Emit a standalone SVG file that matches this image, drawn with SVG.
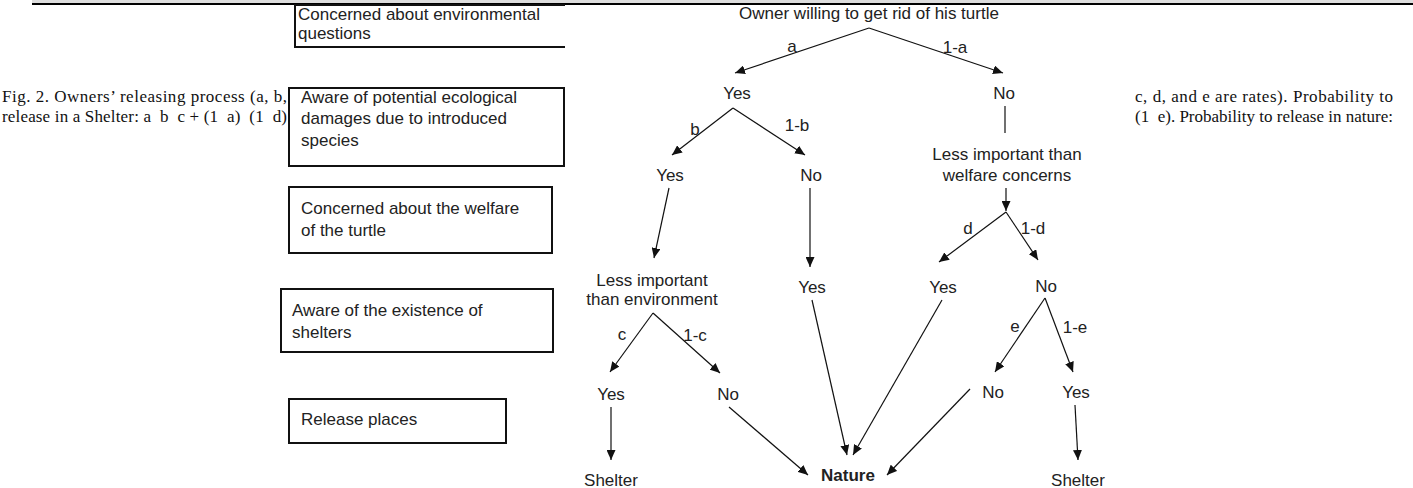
<svg xmlns="http://www.w3.org/2000/svg" width="1413" height="488" viewBox="0 0 1413 488">
<style>
.t{font-family:"Liberation Sans",Arial,sans-serif;font-size:17px;fill:#222}
.m{text-anchor:middle}
.b{font-weight:bold}
.cap{font-family:"Liberation Serif","Times New Roman",serif;font-size:17px;fill:#111}
.box{fill:none;stroke:#111;stroke-width:2}
.c line,.c path{stroke:#111;stroke-width:1.2;fill:none}
.arr{marker-end:url(#ah)}
</style>
<defs>
<marker id="ah" markerUnits="userSpaceOnUse" markerWidth="11" markerHeight="9" refX="10" refY="4.5" orient="auto">
<path d="M0,0 L10,4.5 L0,9 z" fill="#111"/>
</marker>
</defs>
<rect x="32" y="0" width="1381" height="3" fill="#ddd"/>
<line x1="32" y1="4" x2="1413" y2="4" stroke="#000" stroke-width="2"/>
<g id="caption">
<text class="cap" x="2" y="102" textLength="285" lengthAdjust="spacing">Fig. 2. Owners’ releasing process (a, b,</text>
<text class="cap" x="2" y="122" textLength="285" lengthAdjust="spacing" xml:space="preserve">release in a Shelter: a  b  c + (1  a)  (1  d)</text>
<text class="cap" x="1135" y="102" textLength="258" lengthAdjust="spacing">c, d, and e are rates). Probability to</text>
<text class="cap" x="1135" y="122" textLength="258" lengthAdjust="spacing" xml:space="preserve">(1  e). Probability to release in nature:</text>
</g>
<g id="box-env">
<polyline class="box" points="565,5 295,5 295,47 565,47"/>
<text class="t" x="298" y="20">Concerned about environmental</text>
<text class="t" x="298" y="39">questions</text>
</g>
<g id="box-eco">
<rect class="box" x="289" y="88" width="275" height="78"/>
<text class="t" x="301" y="103">Aware of potential ecological</text>
<text class="t" x="301" y="124">damages due to introduced</text>
<text class="t" x="301" y="146">species</text>
</g>
<g id="box-welfare">
<rect class="box" x="289" y="187" width="263" height="66"/>
<text class="t" x="301" y="214">Concerned about the welfare</text>
<text class="t" x="301" y="236">of the turtle</text>
</g>
<g id="box-shelters">
<rect class="box" x="281" y="289" width="272" height="63"/>
<text class="t" x="292" y="316">Aware of the existence of</text>
<text class="t" x="292" y="338">shelters</text>
</g>
<g id="box-release">
<rect class="box" x="289" y="399" width="217" height="44"/>
<text class="t" x="301" y="425">Release places</text>
</g>
<g id="n-owner"><text class="t m" x="869" y="19">Owner willing to get rid of his turtle</text></g>
<g id="n-yes1"><text class="t m" x="737" y="99">Yes</text></g>
<g id="n-no1"><text class="t m" x="1004" y="99">No</text></g>
<g id="n-yes2"><text class="t m" x="670" y="181">Yes</text></g>
<g id="n-no2"><text class="t m" x="811" y="181">No</text></g>
<g id="n-lesswelfare"><text class="t m" x="1007" y="160">Less important than</text><text class="t m" x="1007" y="181">welfare concerns</text></g>
<g id="n-lessenv"><text class="t m" x="652" y="286">Less important</text><text class="t m" x="652" y="305">than environment</text></g>
<g id="n-yes3"><text class="t m" x="812" y="293">Yes</text></g>
<g id="n-yes4"><text class="t m" x="943" y="293">Yes</text></g>
<g id="n-no4"><text class="t m" x="1046" y="292">No</text></g>
<g id="n-yes5"><text class="t m" x="611" y="400">Yes</text></g>
<g id="n-no5"><text class="t m" x="728" y="400">No</text></g>
<g id="n-no6"><text class="t m" x="993" y="398">No</text></g>
<g id="n-yes6"><text class="t m" x="1076" y="398">Yes</text></g>
<g id="n-shelter1"><text class="t m" x="611" y="486">Shelter</text></g>
<g id="n-nature"><text class="t m b" x="848" y="481">Nature</text></g>
<g id="n-shelter2"><text class="t m" x="1078" y="486">Shelter</text></g>
<g id="connectors" class="c">
<line class="arr" x1="869" y1="28" x2="735" y2="73"/>
<line class="arr" x1="869" y1="28" x2="1003" y2="73"/>
<line class="arr" x1="733" y1="108" x2="672" y2="155"/>
<line class="arr" x1="733" y1="108" x2="805" y2="155"/>
<line class="arr" x1="669" y1="188" x2="654" y2="258"/>
<line class="arr" x1="810" y1="188" x2="810" y2="267"/>
<line x1="1005" y1="106" x2="1005" y2="133"/>
<line class="arr" x1="1006" y1="188" x2="1006" y2="211"/>
<line class="arr" x1="1006" y1="212" x2="939" y2="262"/>
<line class="arr" x1="1006" y1="212" x2="1038" y2="260"/>
<line class="arr" x1="653" y1="313" x2="610" y2="372"/>
<line class="arr" x1="653" y1="313" x2="720" y2="373"/>
<line class="arr" x1="611" y1="407" x2="611" y2="460"/>
<line class="arr" x1="729" y1="407" x2="808" y2="475"/>
<line class="arr" x1="812" y1="300" x2="847" y2="455"/>
<line class="arr" x1="942" y1="300" x2="853" y2="455"/>
<line class="arr" x1="1045" y1="298" x2="995" y2="372"/>
<line class="arr" x1="1045" y1="298" x2="1073" y2="372"/>
<line class="arr" x1="970" y1="389" x2="887" y2="475"/>
<line class="arr" x1="1075" y1="405" x2="1078" y2="460"/>
</g>
<g id="labels">
<text class="t m" x="792" y="52">a</text>
<text class="t m" x="955" y="53">1-a</text>
<text class="t m" x="695" y="135">b</text>
<text class="t m" x="797" y="131">1-b</text>
<text class="t m" x="622" y="340">c</text>
<text class="t m" x="695" y="341">1-c</text>
<text class="t m" x="968" y="234">d</text>
<text class="t m" x="1033" y="234">1-d</text>
<text class="t m" x="1015" y="332">e</text>
<text class="t m" x="1075" y="333">1-e</text>
</g>
</svg>
